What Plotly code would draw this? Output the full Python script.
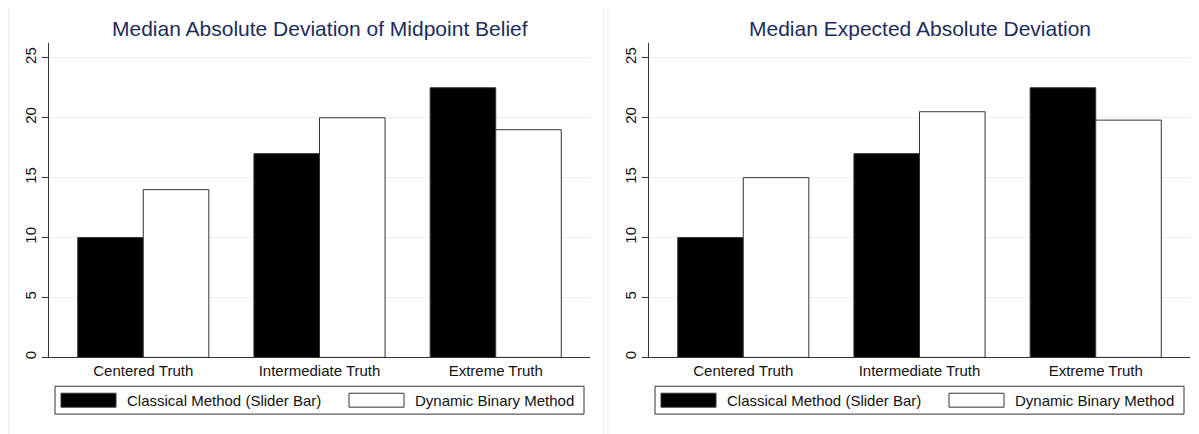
"""Median absolute deviation by truth position: classical vs dynamic binary method."""
import plotly.graph_objects as go

W, H = 1199, 434
PAGE_OFFSET = 8  # default body margin of the written page

categories = ['Centered Truth', 'Intermediate Truth', 'Extreme Truth']
series_names = ['Classical Method (Slider Bar)', 'Dynamic Binary Method']
panel_titles = ['Median Absolute Deviation of Midpoint Belief',
                'Median Expected Absolute Deviation']

midpoint_classical = [10, 17, 22.5]
midpoint_dynamic = [14, 20, 19]
expected_classical = [10, 17, 22.5]
expected_dynamic = [15, 20.5, 19.8]

y_ticks = [0, 5, 10, 15, 20, 25]

FILLS = ['#000000', '#ffffff']
TITLE_COLOR = '#1c2c5b'
GRID_COLOR = '#eaf0f2'
FONT = 'Liberation Sans, Arial, sans-serif'


def px_x(x):
    return (x - PAGE_OFFSET) / W


def px_y(y):
    return 1 - (y - PAGE_OFFSET) / H


panels = [
    {'data': [midpoint_classical, midpoint_dynamic], 'left': 49, 'right': 590},
    {'data': [expected_classical, expected_dynamic], 'left': 649, 'right': 1190},
]

fig = go.Figure()
shapes = []
annotations = []

for i, p in enumerate(panels):
    suffix = '' if i == 0 else str(i + 1)
    for name, vals, fill in zip(series_names, p['data'], FILLS):
        fig.add_trace(go.Bar(
            x=categories, y=vals, name=name,
            marker=dict(color=fill, line=dict(color='#333333', width=1)),
            xaxis='x' + suffix, yaxis='y' + suffix,
            showlegend=False, hoverinfo='x+y+name',
        ))
    fig.layout['xaxis' + suffix] = dict(
        domain=[px_x(p['left']), px_x(p['right'])],
        range=[-0.535, 2.535], anchor='y' + suffix,
        showline=True, linecolor='#333333', linewidth=1,
        ticks='', showgrid=False,
        tickfont=dict(size=15, color='#111111', family=FONT),
    )
    fig.layout['yaxis' + suffix] = dict(
        domain=[px_y(359), px_y(43)],
        range=[0, 26.25], anchor='x' + suffix,
        tickvals=y_ticks, tickangle=-90,
        showline=True, linecolor='#333333', linewidth=1,
        ticks='outside', ticklen=6, tickcolor='#333333',
        showgrid=True, gridcolor=GRID_COLOR, gridwidth=1,
        zeroline=False,
        tickfont=dict(size=15, color='#111111', family=FONT),
    )

    off = 0 if i == 0 else 600
    center = (p['left'] + p['right']) / 2
    # panel title
    annotations.append(dict(
        text=panel_titles[i], x=px_x(center), y=px_y(29),
        xref='paper', yref='paper', xanchor='center', yanchor='middle',
        showarrow=False, font=dict(size=21, color=TITLE_COLOR, family=FONT),
    ))
    # faint outer panel border
    shapes.append(dict(
        type='rect', xref='paper', yref='paper',
        x0=px_x(9 if i == 0 else 608), x1=px_x(604 if i == 0 else 1198),
        y0=px_y(440), y1=px_y(2),
        line=dict(color='#e3ebee', width=1), fillcolor='rgba(0,0,0,0)', layer='below',
    ))
    # legend box
    shapes.append(dict(
        type='rect', xref='paper', yref='paper',
        x0=px_x(55 + off), x1=px_x(584 + off), y0=px_y(416), y1=px_y(388),
        line=dict(color='#333333', width=1), fillcolor='#ffffff',
    ))
    for name, fill, sx in zip(series_names, FILLS, [61, 349]):
        shapes.append(dict(
            type='rect', xref='paper', yref='paper',
            x0=px_x(sx + off), x1=px_x(sx + 55 + off), y0=px_y(409), y1=px_y(395),
            line=dict(color='#333333', width=1), fillcolor=fill,
        ))
        annotations.append(dict(
            text=name, x=px_x(sx + 64 + off), y=px_y(402),
            xref='paper', yref='paper', xanchor='left', yanchor='middle',
            showarrow=False, font=dict(size=15, color='#111111', family=FONT),
        ))

fig.update_layout(
    width=W, height=H,
    margin=dict(l=0, r=0, t=0, b=0),
    paper_bgcolor='#ffffff', plot_bgcolor='#ffffff',
    barmode='group', bargap=0.256, bargroupgap=0,
    shapes=shapes, annotations=annotations,
    font=dict(family=FONT),
)

fig.write_html("out.html")
